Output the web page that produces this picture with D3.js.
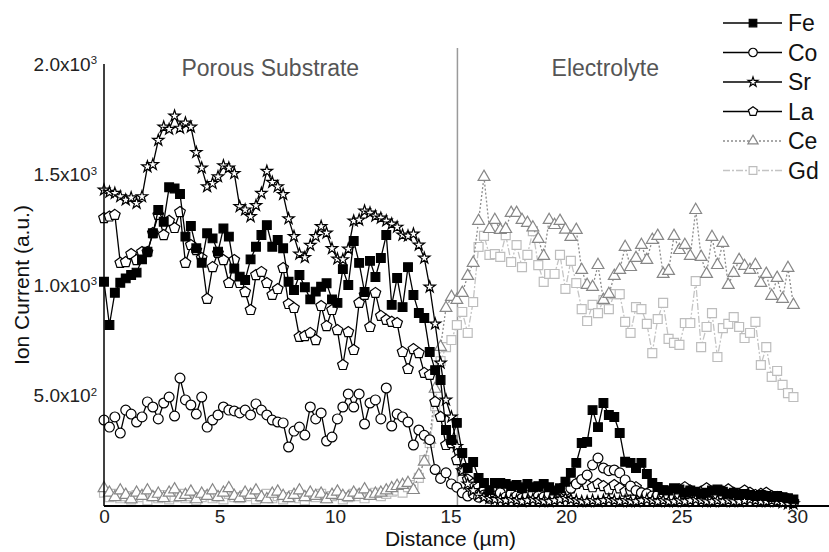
<!DOCTYPE html>
<html>
<head>
<meta charset="utf-8">
<title>Ion current depth profile</title>
<script src="https://cdn.jsdelivr.net/npm/d3@7"></script>
<style>
  body { margin: 0; background: #ffffff; }
  text { font-family: "Liberation Sans", Arial, sans-serif; }
</style>
</head>
<body>
<svg width="829" height="552" id="mainsvg"></svg>
<script>
// sampling grid along the depth (µm)
const distance = d3.range(0, 30, 0.235);

// ion current (a.u.), one value per sample
const fe = [1015,819,965,1010,1030,1045,1056,1116,1151,1234,1339,1286,1442,1437,1412,1219,1267,1166,1101,1234,
  1211,1151,1256,1219,1075,1038,1023,1116,1173,1226,1271,1173,1204,1166,1015,977,1045,990,935,970,992,1008,935,
  919,1072,1000,1199,1100,968,1109,1036,1122,1226,910,1032,900,1081,955,873,851,697,615,570,344,299,376,240,172,199,127,104,72,104,104,
  100,90,95,80,100,85,90,100,85,70,80,
  110,150,195,285,290,434,357,466,412,403,330,200,195,172,195,145,104,86,72,
  70,80,75,60,70,65,55,60,70,75,65,55,60,50,55,50,45,50,45,40,45,40,35,30];

const co = [389,357,403,330,434,416,380,403,471,448,394,466,493,407,579,480,457,416,493,357,389,412,448,434,430,421,434,412,462,434,
  412,389,380,376,267,339,357,321,448,394,421,294,312,394,448,507,448,507,371,466,480,394,534,362,416,403,380,276,344,
  320,300,165,125,150,100,85,60,45,55,40,
  50,35,45,60,40,55,45,35,50,60,45,40,55,50,60,70,
  80,100,120,140,186,217,172,160,163,150,118,90,70,
  60,55,45,50,60,45,40,55,50,45,60,50,40,45,55,50,40,45,50,40,45,40,35,45,40,35,30,25,15];

const sr = [1430,1420,1415,1400,1385,1395,1370,1400,1535,1545,1655,1715,1705,1765,1710,1733,1715,1600,1530,1445,1460,1490,
  1540,1530,1505,1355,1340,1310,1360,1415,1515,1465,1445,1410,1300,1220,1140,1125,1180,1220,1265,1235,1165,1118,
  1115,1163,1290,1294,1335,1326,1312,1303,1290,1276,1262,1226,1222,1231,1181,1122,991,824,647,480,403,
  270,160,100,70,50,40,35,30,30,25,30,25,20,25,30,25,20,20,25,30,35,30,25,20,20,25,20,25,30,25,
  20,25,20,20,25,30,25,20,25,20,20,25,20,25,30,25,20,20,25,20,25,20,20,25,30,25,20,20,25,20,15,10,10];

const la = [1303,1310,1317,1100,1104,1140,1113,1149,1149,1235,1317,1226,1290,1258,1330,1100,1181,1158,1122,937,1081,1145,
  1113,1009,1113,1009,968,887,1045,1059,1009,955,982,1077,914,896,765,769,783,751,905,814,887,796,
  638,787,706,919,955,810,964,860,842,833,828,697,620,710,692,602,593,471,403,276,285,208,
  160,120,100,85,70,60,75,90,70,55,65,80,60,50,70,85,65,55,75,90,80,100,110,95,85,100,90,75,95,80,
  65,70,85,60,55,70,80,65,50,60,75,85,70,55,65,80,60,50,65,75,60,55,70,60,50,55,60,45,40,35,30,20];

const ce = [80,60,40,70,50,30,60,45,70,40,55,35,60,75,40,50,65,30,55,45,70,40,60,80,45,35,60,50,70,40,
  30,55,65,45,35,50,70,40,60,45,55,30,50,65,45,40,60,50,75,45,55,60,70,80,90,95,104,72,140,
  200,300,530,720,896,946,932,964,1041,1100,1290,1489,1253,1294,1249,1253,1326,1326,1294,1281,1260,1208,1131,1294,
  1271,1290,1250,1217,1249,1068,1000,991,1090,932,959,1041,
  1068,1172,1081,1122,1181,1113,1204,1222,1050,1063,1222,1158,1181,1131,1339,1127,1050,1217,1090,1190,1000,1054,
  1113,1086,1068,1090,1009,1050,950,1032,937,1077,910];

const gd = [60,40,55,35,45,30,50,40,25,45,35,50,30,40,55,35,45,25,40,50,35,45,30,55,40,35,50,45,30,40,
  55,35,45,30,40,50,35,25,45,40,55,35,45,50,30,40,55,45,35,50,60,45,55,65,70,60,85,95,
  127,208,285,452,656,719,751,819,878,783,923,1172,1222,1136,1140,1127,1226,1104,1181,1081,
  1136,1244,1090,1014,1050,1050,1136,982,1109,1009,891,837,910,873,932,891,959,959,833,783,
  900,891,824,692,846,919,756,738,729,828,828,1018,719,810,873,674,805,824,855,810,
  760,783,833,638,719,584,611,548,511,493];

const xTicks = [0, 5, 10, 15, 20, 25, 30];
const yTicks = [500, 1000, 1500, 2000];
const yTickLabels = [['5.0x10', '2'], ['1.0x10', '3'], ['1.5x10', '3'], ['2.0x10', '3']];
const interfaceAt = 15.3;
const regionNames = ['Porous Substrate', 'Electrolyte'];
const regionCenters = [7.2, 21.7];

// svg & scales
const svg = d3.select('#mainsvg');
const width = +svg.attr('width');
const height = +svg.attr('height');
const margin = {top: 64, right: 32, bottom: 46, left: 104};

const xScale = d3.scaleLinear().domain([0, 30]).range([margin.left, width - margin.right]);
const yScale = d3.scaleLinear().domain([0, 2000]).range([height - margin.bottom, margin.top]);

// regular pentagon, pointing up (d3 has none)
const symbolPentagon = {
  draw(context, size) {
    const r = Math.sqrt(size / 2.3776);
    for (let k = 0; k < 5; k++) {
      const a = -Math.PI / 2 + k * 2 * Math.PI / 5;
      if (k === 0) context.moveTo(r * Math.cos(a), r * Math.sin(a));
      else context.lineTo(r * Math.cos(a), r * Math.sin(a));
    }
    context.closePath();
  }
};

// drawing order: grey ones below, black on top
const series = [
  {name: 'Gd', values: gd, type: d3.symbolSquare, size: 80, stroke: '#bdbdbd', fill: '#fff', line: '#c4c4c4', dash: '7,2,2,2'},
  {name: 'Ce', values: ce, type: d3.symbolTriangle, size: 60, stroke: '#878787', fill: '#fff', line: '#8c8c8c', dash: '2,2'},
  {name: 'La', values: la, type: symbolPentagon, size: 74, stroke: '#000', fill: '#fff', line: '#000', dash: null},
  {name: 'Co', values: co, type: d3.symbolCircle, size: 76, stroke: '#000', fill: '#fff', line: '#000', dash: null},
  {name: 'Sr', values: sr, type: d3.symbolStar, size: 40, stroke: '#000', fill: '#fff', line: '#000', dash: null},
  {name: 'Fe', values: fe, type: d3.symbolSquare, size: 76, stroke: '#000', fill: '#000', line: '#000', dash: null}
];
const legendOrder = ['Fe', 'Co', 'Sr', 'La', 'Ce', 'Gd'];

const g = svg.append('g').attr('id', 'maingroup');

// interface between substrate and electrolyte
g.append('line')
  .attr('x1', xScale(interfaceAt)).attr('x2', xScale(interfaceAt))
  .attr('y1', yScale(2000) - 16).attr('y2', yScale(0))
  .attr('stroke', '#9a9a9a').attr('stroke-width', 1.5);

g.selectAll('.region').data(regionNames).enter().append('text')
  .attr('class', 'region')
  .attr('x', (d, i) => xScale(regionCenters[i]))
  .attr('y', yScale(2000) + 12)
  .attr('text-anchor', 'middle')
  .attr('font-size', 23)
  .attr('fill', '#555')
  .text(d => d);

// lines + markers
const line = d3.line().x((d, i) => xScale(distance[i])).y(d => yScale(d));

series.forEach(s => {
  const sg = g.append('g').attr('class', 'series-' + s.name);
  sg.append('path')
    .datum(s.values)
    .attr('d', line)
    .attr('fill', 'none')
    .attr('stroke', s.line)
    .attr('stroke-width', 1.3)
    .attr('stroke-dasharray', s.dash);
  sg.selectAll('path.mark').data(s.values).enter().append('path')
    .attr('class', 'mark')
    .attr('transform', (d, i) => `translate(${xScale(distance[i])},${yScale(d)})`)
    .attr('d', d3.symbol().type(s.type).size(s.size))
    .attr('fill', s.fill)
    .attr('stroke', s.stroke)
    .attr('stroke-width', 1.2);
});

// axes
const xAxis = d3.axisBottom(xScale).tickValues(xTicks).tickSize(0).tickPadding(3);
const xAxisGroup = g.append('g').attr('transform', `translate(0, ${yScale(0)})`).call(xAxis);
xAxisGroup.select('.domain').remove();
xAxisGroup.selectAll('text').attr('font-size', 19).attr('fill', '#222')
  .style('font-family', '"Liberation Sans Narrow", "Liberation Sans", Arial, sans-serif');
xAxisGroup.append('line')
  .attr('x1', xScale(0)).attr('x2', width)
  .attr('stroke', '#000').attr('stroke-width', 2);

const yAxis = d3.axisLeft(yScale).tickValues(yTicks).tickSize(0).tickPadding(7);
const yAxisGroup = g.append('g').attr('transform', `translate(${xScale(0)}, 0)`).call(yAxis);
yAxisGroup.select('.domain').remove();
yAxisGroup.selectAll('.tick text').each(function(d, i) {
  const t = d3.select(this).text(null).attr('font-size', 19).attr('fill', '#222');
  t.append('tspan').text(yTickLabels[i][0]);
  t.append('tspan').attr('dy', '-0.55em').attr('font-size', '0.6em').text(yTickLabels[i][1]);
});
yAxisGroup.append('line')
  .attr('y1', yScale(0)).attr('y2', yScale(2000))
  .attr('stroke', '#000').attr('stroke-width', 1.5);

// axis titles
g.append('text')
  .attr('x', (xScale(0) + xScale(30)) / 2)
  .attr('y', height - 6)
  .attr('text-anchor', 'middle')
  .attr('font-size', 21)
  .attr('fill', '#111')
  .text('Distance (µm)');
g.append('text')
  .attr('transform', `translate(29, ${(yScale(0) + yScale(2000)) / 2}) rotate(-90)`)
  .attr('text-anchor', 'middle')
  .attr('font-size', 21)
  .attr('fill', '#111')
  .text('Ion Current (a.u.)');

// legend
const legend = g.selectAll('.legend')
  .data(legendOrder.map(n => series.find(s => s.name === n)))
  .enter().append('g')
  .attr('class', 'legend')
  .attr('transform', (d, i) => `translate(${width - 106}, ${23 + i * 29.5})`);
legend.append('line')
  .attr('x1', 0).attr('x2', 59)
  .attr('stroke', d => d.line)
  .attr('stroke-width', 1.3)
  .attr('stroke-dasharray', d => d.dash);
legend.append('path')
  .attr('transform', 'translate(30,0)')
  .attr('d', d => d3.symbol().type(d.type).size(d.size * 0.75)())
  .attr('fill', d => d.fill)
  .attr('stroke', d => d.stroke)
  .attr('stroke-width', 1.2);
legend.append('text')
  .attr('x', 65)
  .attr('y', 8)
  .attr('font-size', 23)
  .attr('fill', '#111')
  .text(d => d.name);
</script>
</body>
</html>
